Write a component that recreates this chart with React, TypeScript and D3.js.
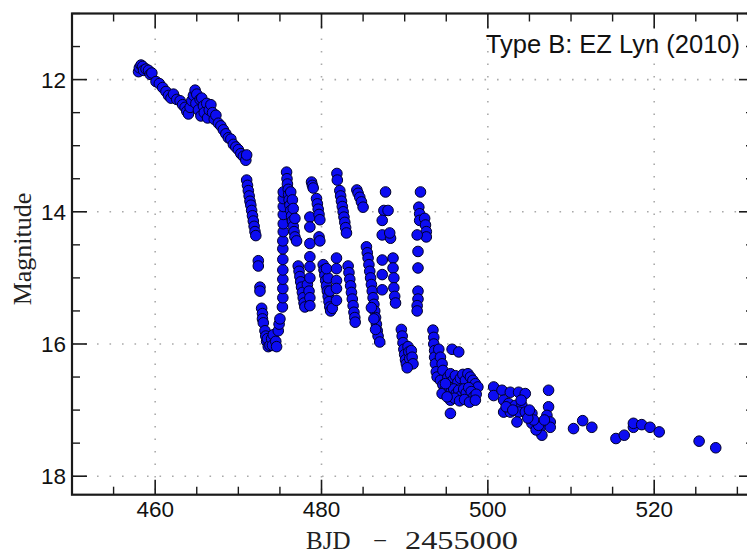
import React from "react";
import * as d3 from "d3";

// [BJD - 2455000, magnitude]
const earlyDecline: [number, number][] = [
  [458.0, 11.88], [458.1, 11.82], [458.3, 11.78], [458.5, 11.80], [458.6, 11.86], [458.9, 11.84],
  [459.2, 11.86], [459.4, 11.92], [459.6, 11.90], [460.1, 12.03], [460.5, 12.06], [460.9, 12.12],
  [461.3, 12.18], [461.6, 12.24], [461.9, 12.28], [462.2, 12.22], [462.6, 12.30], [463.0, 12.32],
  [463.3, 12.38], [463.6, 12.42], [463.8, 12.48], [464.0, 12.52], [464.2, 12.42], [464.4, 12.32],
  [464.6, 12.24], [464.8, 12.16], [465.0, 12.22], [464.9, 12.36], [465.2, 12.46], [465.4, 12.30],
  [465.6, 12.28], [465.8, 12.40], [465.5, 12.55], [465.9, 12.50], [466.2, 12.36], [466.3, 12.58],
  [466.5, 12.46], [466.7, 12.38], [466.9, 12.50], [467.1, 12.60], [467.3, 12.54], [467.6, 12.66],
  [467.9, 12.70], [468.2, 12.76], [468.5, 12.82], [468.8, 12.88], [469.1, 12.90], [469.4, 12.98],
  [469.7, 13.02], [470.0, 13.06], [470.3, 13.12], [470.6, 13.16], [470.9, 13.22], [471.0, 13.14],
];

const oscillations: [number, number][] = [
  [471.0, 13.52], [471.1, 13.60], [471.2, 13.68], [471.3, 13.76], [471.4, 13.84], [471.5, 13.90],
  [471.6, 13.98], [471.7, 14.06], [471.8, 14.14], [471.9, 14.22], [472.0, 14.30], [472.1, 14.36],
  [472.4, 14.74], [472.4, 14.82], [472.6, 15.14], [472.6, 15.20], [472.8, 15.46], [472.9, 15.54],
  [472.9, 15.62], [473.0, 15.68], [473.2, 15.80], [473.3, 15.88], [473.4, 15.96], [473.6, 16.04],
  [473.5, 15.92], [473.8, 16.02], [474.0, 15.92], [474.2, 15.86], [474.1, 16.02], [474.5, 15.96],
  [474.6, 16.04], [474.8, 15.80], [474.9, 15.70], [475.0, 15.62],
  [475.3, 15.44], [475.35, 15.30], [475.35, 15.16], [475.35, 15.02], [475.35, 14.88], [475.35, 14.72],
  [475.35, 14.56], [475.35, 14.44], [475.4, 14.30], [475.4, 14.18], [475.4, 14.04], [475.4, 13.92],
  [475.4, 13.80], [475.4, 13.70],
  [475.8, 13.40], [475.85, 13.50], [475.9, 13.58], [476.0, 13.66], [476.05, 13.74], [476.1, 13.82],
  [476.2, 13.90], [476.3, 13.98], [476.4, 14.06], [476.5, 14.14], [476.6, 14.22], [476.7, 14.30],
  [476.8, 14.38], [477.0, 14.44], [476.3, 13.70], [476.5, 13.82], [476.6, 13.95], [476.8, 14.10],
  [477.2, 14.82], [477.3, 14.90], [477.4, 14.98], [477.5, 15.06], [477.6, 15.14], [477.7, 15.22],
  [477.8, 15.30], [477.9, 15.38], [478.0, 15.44], [478.3, 15.10], [478.5, 15.20], [478.6, 15.30],
  [478.6, 15.42],
  [478.6, 14.08], [478.6, 14.23], [478.6, 14.48], [478.6, 14.68], [478.6, 14.83], [478.6, 15.00],
  [478.8, 13.55], [478.9, 13.60], [479.0, 13.64], [479.4, 13.80], [479.5, 13.88], [479.6, 13.96],
  [479.7, 14.04], [479.8, 14.12], [479.7, 14.38], [479.8, 14.44],
  [480.2, 14.80], [480.3, 14.88], [480.4, 14.96], [480.5, 15.04], [480.6, 15.12], [480.7, 15.20],
  [480.8, 15.28], [480.9, 15.36], [481.0, 15.44], [481.1, 15.50], [481.3, 15.46], [481.0, 15.20],
  [480.8, 15.00], [480.6, 14.86],
  [481.8, 14.70], [481.8, 14.86], [481.8, 15.04], [481.8, 15.16], [481.8, 15.34],
  [481.85, 13.42], [481.9, 13.52], [482.2, 13.68], [482.3, 13.76], [482.4, 13.84], [482.5, 13.92],
  [482.6, 14.00], [482.7, 14.08], [482.8, 14.16], [482.9, 14.24], [483.0, 14.32],
  [483.2, 14.82], [483.3, 14.92], [483.4, 15.02], [483.5, 15.12], [483.6, 15.22], [483.7, 15.32],
  [483.8, 15.42], [483.9, 15.52], [484.0, 15.60], [484.05, 15.67],
  [484.25, 13.67], [484.4, 13.72], [484.6, 13.78], [484.8, 13.85], [485.0, 13.93],
  [485.4, 14.53], [485.5, 14.62], [485.6, 14.70], [485.7, 14.80], [485.8, 14.90], [485.9, 15.00],
  [486.0, 15.10], [486.1, 15.20], [486.2, 15.30], [486.3, 15.40], [486.4, 15.50], [486.5, 15.60],
  [486.6, 15.70], [486.7, 15.80], [486.8, 15.88], [487.0, 15.97], [486.0, 15.45], [486.3, 15.62],
  [486.5, 15.78],
  [487.7, 13.70], [487.5, 13.98], [488.0, 13.98], [487.3, 14.13], [487.3, 14.35], [488.3, 14.40],
  [488.2, 14.32], [487.3, 14.73], [487.3, 14.95], [487.3, 15.18],
  [488.6, 14.70], [488.6, 14.85], [488.7, 15.00], [488.7, 15.15], [488.8, 15.28], [488.9, 15.38],
  [489.6, 15.78], [489.7, 15.88], [489.8, 15.98], [489.9, 16.08], [490.0, 16.16], [490.1, 16.24],
  [490.2, 16.30], [490.4, 16.04], [490.5, 16.12], [490.6, 16.22], [490.8, 16.10], [490.9, 16.20],
  [491.0, 16.30], [490.3, 16.36],
  [491.9, 13.70], [491.7, 13.93], [491.8, 14.03], [491.8, 14.13], [492.4, 14.10], [492.5, 14.20],
  [492.6, 14.30], [492.6, 14.38], [491.5, 14.35], [491.6, 14.60], [491.6, 14.85], [491.6, 15.20],
  [491.6, 15.32], [491.5, 15.42], [491.5, 15.50],
];

const lateDecline: [number, number][] = [
  [493.4, 15.79], [493.5, 15.90], [493.5, 16.00], [493.6, 16.10], [493.6, 16.20], [493.7, 16.30],
  [493.8, 16.42], [493.9, 16.50], [494.1, 16.08], [494.3, 16.20], [494.5, 16.30], [494.6, 16.40],
  [494.3, 16.55], [494.6, 16.62], [494.8, 16.70], [494.5, 16.75], [495.7, 16.08], [496.5, 16.12],
  [495.5, 17.05],
  [495.2, 16.50], [495.5, 16.45], [495.8, 16.55], [496.1, 16.48], [496.4, 16.58], [496.7, 16.52],
  [497.0, 16.46], [497.3, 16.55], [497.6, 16.45], [497.9, 16.50], [498.2, 16.55], [498.5, 16.60],
  [498.8, 16.65], [495.3, 16.65], [495.6, 16.72], [495.9, 16.68], [496.2, 16.75], [496.5, 16.70],
  [496.8, 16.78], [497.1, 16.68], [497.4, 16.74], [497.7, 16.66], [498.0, 16.72], [498.3, 16.80],
  [498.6, 16.76], [495.5, 16.85], [496.0, 16.82], [496.6, 16.86], [497.2, 16.84], [497.8, 16.88],
  [498.5, 16.85], [494.9, 16.60], [495.1, 16.80],
  [500.7, 16.65], [500.7, 16.78], [501.7, 16.70], [502.7, 16.73], [503.7, 16.73], [504.5, 16.75],
  [501.9, 16.85], [502.5, 16.90], [503.3, 16.93], [504.1, 16.93], [501.9, 17.03], [502.7, 17.03],
  [503.7, 17.03], [503.5, 17.18], [504.5, 17.03], [505.3, 17.05], [505.3, 17.20], [506.3, 17.26],
  [506.5, 17.38], [507.3, 16.70], [507.3, 16.95], [507.1, 17.08], [507.5, 17.18], [507.5, 17.26],
  [505.8, 17.30], [506.1, 17.23], [505.5, 17.15], [504.8, 17.12], [505.0, 17.00], [502.2, 16.95],
  [503.0, 17.00], [504.0, 16.85], [506.8, 17.15],
];

const tail: [number, number][] = [
  [510.3, 17.28], [511.4, 17.16], [512.5, 17.26], [515.4, 17.43], [516.4, 17.38], [517.5, 17.26],
  [517.5, 17.20], [518.5, 17.22], [519.5, 17.26], [520.6, 17.33], [525.4, 17.47], [527.4, 17.57],
];

const xMajorTicks = [460, 480, 500, 520];
const yMajorTicks = [12, 14, 16, 18];
const title = "Type B: EZ Lyn (2010)";
const xLabelParts = ["BJD", "\u2212", "2455000"];
const yLabel = "Magnitude";

const W = 747;
const H = 556;
const left = 72;
const right = 754;
const top = 13.5;
const bottom = 494.7;

export default function App() {
  const x = d3.scaleLinear().domain([450, 532]).range([left, right]);
  const y = d3.scaleLinear().domain([11.0, 18.28]).range([top, bottom]);
  const xMinor = d3.range(450, 533, 5).filter((v) => !xMajorTicks.includes(v));
  const yMinor = d3.range(11, 18.3, 0.5).filter((v) => !yMajorTicks.includes(v));
  const all = [...earlyDecline, ...oscillations, ...lateDecline, ...tail];
  const sans = "'Liberation Sans', Arial, sans-serif";
  const serif = "'Liberation Serif', 'Times New Roman', serif";
  const axisColor = "#1a1a1a";
  return (
    <svg width={W} height={H} style={{ position: "absolute", left: 0, top: 0, background: "#fff" }}>
      <rect x={0} y={0} width={W} height={H} fill="#fff" />
      {/* grid */}
      {xMajorTicks.map((t) => (
        <line key={"gx" + t} x1={x(t)} x2={x(t)} y1={top} y2={bottom} stroke="#aaa" strokeWidth={1.6} strokeDasharray="1.6 10.9" />
      ))}
      {yMajorTicks.map((t) => (
        <line key={"gy" + t} x1={left} x2={right} y1={y(t)} y2={y(t)} stroke="#aaa" strokeWidth={1.6} strokeDasharray="1.6 10.9" />
      ))}
      {/* points */}
      {all.map((d, i) => (
        <circle key={i} cx={x(d[0])} cy={y(d[1])} r={5.3} fill="#0c0cf2" stroke="#000028" strokeWidth={1} />
      ))}
      {/* ticks */}
      {xMajorTicks.map((t) => (
        <g key={"xt" + t}>
          <line x1={x(t)} x2={x(t)} y1={bottom} y2={bottom - 15} stroke={axisColor} strokeWidth={1.6} />
          <line x1={x(t)} x2={x(t)} y1={top} y2={top + 15} stroke={axisColor} strokeWidth={1.6} />
          <text x={x(t)} y={517} textAnchor="middle" fontFamily={sans} fontSize={22.5} fill="#111">{t}</text>
        </g>
      ))}
      {xMinor.map((t) => (
        <g key={"xm" + t}>
          <line x1={x(t)} x2={x(t)} y1={bottom} y2={bottom - 8} stroke={axisColor} strokeWidth={1.4} />
          <line x1={x(t)} x2={x(t)} y1={top} y2={top + 8} stroke={axisColor} strokeWidth={1.4} />
        </g>
      ))}
      {yMajorTicks.map((t) => (
        <g key={"yt" + t}>
          <line x1={left} x2={left + 15} y1={y(t)} y2={y(t)} stroke={axisColor} strokeWidth={1.6} />
          <line x1={right} x2={right - 15} y1={y(t)} y2={y(t)} stroke={axisColor} strokeWidth={1.6} />
          <text x={66} y={y(t) + 8} textAnchor="end" fontFamily={sans} fontSize={22.5} fill="#111">{t}</text>
        </g>
      ))}
      {yMinor.map((t) => (
        <g key={"ym" + t}>
          <line x1={left} x2={left + 8} y1={y(t)} y2={y(t)} stroke={axisColor} strokeWidth={1.4} />
          <line x1={right} x2={right - 8} y1={y(t)} y2={y(t)} stroke={axisColor} strokeWidth={1.4} />
        </g>
      ))}
      {/* frame */}
      <rect x={left} y={top} width={right - left} height={bottom - top} fill="none" stroke={axisColor} strokeWidth={2.2} />
      {/* title */}
      <text x={740} y={53} textAnchor="end" fontFamily={sans} fontSize={25.5} fill="#111">{title}</text>
      {/* axis labels */}
      <text x={306} y={549} fontFamily={serif} fontSize={25} fill="#222">{xLabelParts[0]}</text>
      <text x={380} y={549} textAnchor="middle" fontFamily={serif} fontSize={25} fill="#222">{xLabelParts[1]}</text>
      <text x={405} y={549} fontFamily={serif} fontSize={25} fill="#222" textLength={113} lengthAdjust="spacingAndGlyphs">{xLabelParts[2]}</text>
      <text transform={`translate(31,249) rotate(-90)`} textAnchor="middle" fontFamily={serif} fontSize={26} fill="#222">{yLabel}</text>
    </svg>
  );
}
